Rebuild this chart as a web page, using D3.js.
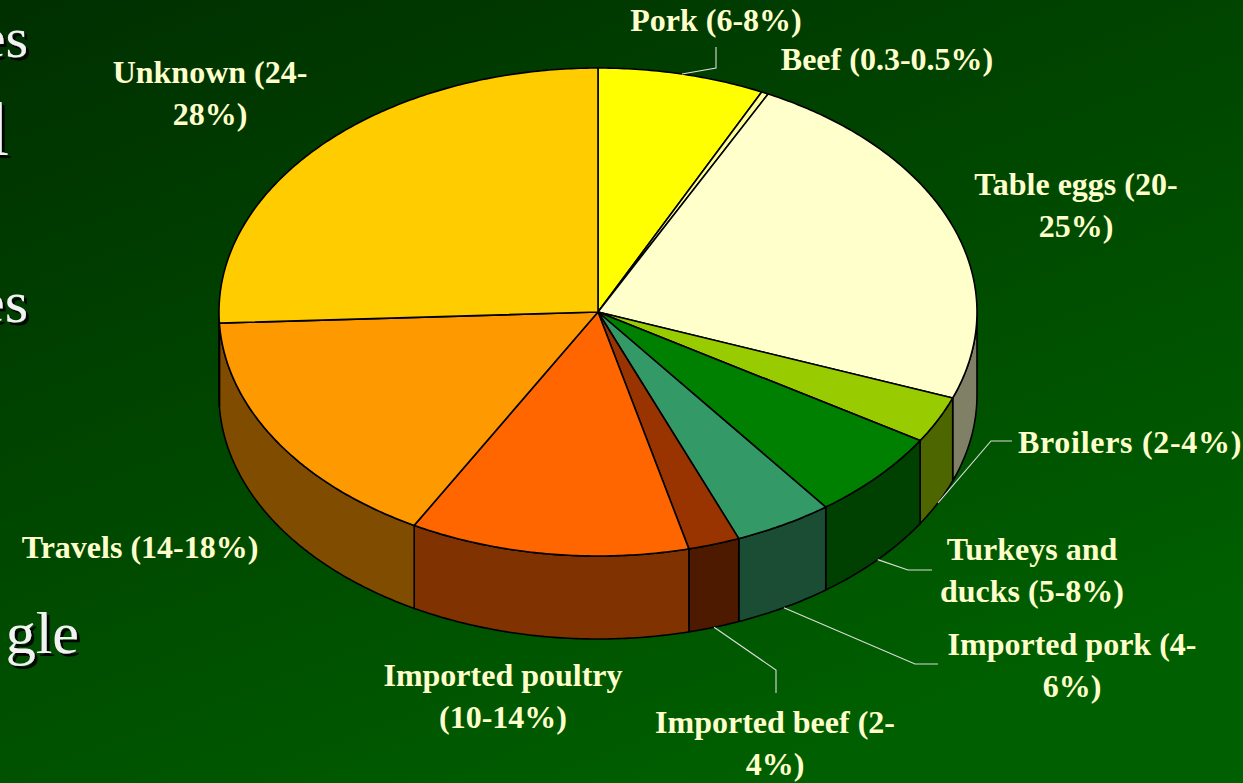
<!DOCTYPE html>
<html>
<head>
<meta charset="utf-8">
<script src="https://cdn.jsdelivr.net/npm/d3@7/dist/d3.min.js"></script>
<style>
  html, body { margin: 0; padding: 0; background: #003a00; }
  svg { display: block; }
</style>
</head>
<body>
<svg id="chart" width="1243" height="783"></svg>
<script>
// ---------- data ----------
const categories = ["Pork", "Beef", "Table eggs", "Broilers", "Turkeys and ducks",
  "Imported pork", "Imported beef", "Imported poultry", "Travels", "Unknown"];
const values = [7.1, 0.3, 23.3, 3.1, 5.9, 4.2, 2.2, 11.9, 16.2, 25.7];
const rangeLabels = ["6-8%", "0.3-0.5%", "20-25%", "2-4%", "5-8%", "4-6%", "2-4%", "10-14%", "14-18%", "24-28%"];
const topColors = ["#FFFF00", "#FFFF99", "#FFFFCC", "#99CC00", "#008000",
  "#339966", "#993300", "#FF6600", "#FF9900", "#FFCC00"];
const labelLines = [
  ["Pork (6-8%)"], ["Beef (0.3-0.5%)"], ["Table eggs (20-", "25%)"], ["Broilers (2-4%)"],
  ["Turkeys and", "ducks (5-8%)"], ["Imported pork (4-", "6%)"], ["Imported beef (2-", "4%)"],
  ["Imported poultry", "(10-14%)"], ["Travels (14-18%)"], ["Unknown (24-", "28%)"]
];
const slideFragments = ["es", "l", "es", "gle"];

// ---------- layout ----------
const W = 1243, H = 783;
const cx = 598, cy = 312, rx = 379, ry = 244, depth = 83;
const lineH = 42;
const labelLayout = {
  "Pork": { x: 716, y: 31, anchor: "middle", leader: [[716, 68], [716, 47]], edge: "top" },
  "Beef": { x: 887, y: 70, anchor: "middle" },
  "Table eggs": { x: 1076, y: 195, anchor: "middle" },
  "Broilers": { x: 1018, y: 453, anchor: "start", ls: 0.7, leader: [[991, 441], [1012, 441]], edge: "bottom" },
  "Turkeys and ducks": { x: 1032, y: 560, anchor: "middle", leader: [[908, 570], [932, 570]], edge: "bottom" },
  "Imported pork": { x: 1072, y: 655, anchor: "middle", leader: [[915, 664], [938, 664]], edge: "bottom" },
  "Imported beef": { x: 775, y: 733, anchor: "middle", leader: [[776, 670], [776, 693]], edge: "bottom" },
  "Imported poultry": { x: 503, y: 686, anchor: "middle" },
  "Travels": { x: 140, y: 558, anchor: "middle" },
  "Unknown": { x: 210, y: 83, anchor: "middle" }
};
const fragLayout = [
  { x: 28, y: 57, size: 58 },
  { x: 9, y: 155, size: 76 },
  { x: 28, y: 322, size: 60 },
  { x: 79, y: 653, size: 60 }
];

const svg = d3.select("#chart");
const defs = svg.append("defs");
const bg = defs.append("linearGradient").attr("id", "bg")
  .attr("x1", "0").attr("y1", "0").attr("x2", "0.6").attr("y2", "1");
bg.append("stop").attr("offset", "0").attr("stop-color", "#002f00");
bg.append("stop").attr("offset", "1").attr("stop-color", "#005f00");
svg.append("rect").attr("width", W).attr("height", H).attr("fill", "url(#bg)");

const shadow = defs.append("filter").attr("id", "shadow")
  .attr("x", "-20%").attr("y", "-20%").attr("width", "150%").attr("height", "150%");
shadow.append("feDropShadow").attr("dx", 3).attr("dy", 3).attr("stdDeviation", 0.6)
  .attr("flood-color", "#000").attr("flood-opacity", 0.9);

// slide text fragments (cut-off at the left edge)
svg.append("g").selectAll("text").data(slideFragments).join("text")
  .attr("x", (d, i) => fragLayout[i].x)
  .attr("y", (d, i) => fragLayout[i].y)
  .attr("text-anchor", "end")
  .attr("font-family", "'Liberation Serif', 'Times New Roman', serif")
  .attr("font-size", (d, i) => fragLayout[i].size)
  .attr("fill", "#f2f2f2")
  .attr("filter", "url(#shadow)")
  .text(d => d);

// ---------- pie ----------
const data = categories.map((c, i) => ({ name: c, value: values[i], color: topColors[i], lines: labelLines[i], range: rangeLabels[i] }));
const arcs = d3.pie().value(d => d.value).sort(null).startAngle(0).endAngle(2 * Math.PI)(data);

const sx = d3.scaleLinear().domain([-1, 1]).range([cx - rx, cx + rx]);
const sy = d3.scaleLinear().domain([-1, 1]).range([cy - ry, cy + ry]);
const pt = (a, dz = 0) => [sx(Math.sin(a)), sy(-Math.cos(a)) + dz];

function arcPts(a0, a1, dz) {
  const n = Math.max(2, Math.ceil((a1 - a0) / 0.01));
  return d3.range(n + 1).map(k => pt(a0 + (a1 - a0) * k / n, dz));
}
const line = d3.line();

function topPath(d) {
  return line([[cx, cy], ...arcPts(d.startAngle, d.endAngle, 0)]) + "Z";
}
function sidePath(d) {
  const a0 = Math.max(d.startAngle, Math.PI / 2);
  const a1 = Math.min(d.endAngle, 3 * Math.PI / 2);
  if (a1 <= a0) return null;
  const top = arcPts(a0, a1, 0);
  const bot = arcPts(a0, a1, depth).reverse();
  return line([...top, ...bot]) + "Z";
}

const pie = svg.append("g");
pie.selectAll("path.side").data(arcs.filter(d => sidePath(d))).join("path")
  .attr("class", "side")
  .attr("d", sidePath)
  .attr("fill", d => d3.color(d.data.color).darker(1).formatHex())
  .attr("fill", d => { const c = d3.rgb(d.data.color); return d3.rgb(c.r * 0.5, c.g * 0.5, c.b * 0.5).formatHex(); })
  .attr("stroke", "#000").attr("stroke-width", 1.6).attr("stroke-linejoin", "round");

pie.selectAll("path.top").data(arcs).join("path")
  .attr("class", "top")
  .attr("d", topPath)
  .attr("fill", d => d.data.color)
  .attr("stroke", "#000").attr("stroke-width", 1.6).attr("stroke-linejoin", "round");

// ---------- leader lines ----------
const leaders = arcs.filter(d => labelLayout[d.data.name].leader);
svg.append("g").selectAll("path").data(leaders).join("path")
  .attr("d", d => {
    const L = labelLayout[d.data.name];
    const mid = (d.startAngle + d.endAngle) / 2;
    const start = pt(mid, L.edge === "bottom" ? depth : 0);
    return line([start, ...L.leader]);
  })
  .attr("fill", "none").attr("stroke", "#dcdcdc").attr("stroke-width", 1.1);

// ---------- labels ----------
const lbl = svg.append("g")
  .attr("font-family", "'Liberation Serif', 'Times New Roman', serif")
  .attr("font-weight", "bold").attr("font-size", 32).attr("fill", "#FFFFCC");
arcs.forEach(d => {
  const L = labelLayout[d.data.name];
  const t = lbl.append("text").attr("text-anchor", L.anchor)
    .attr("letter-spacing", L.ls || 0);
  d.data.lines.forEach((s, k) => {
    t.append("tspan").attr("x", L.x).attr("y", L.y + k * lineH).text(s);
  });
});
</script>
</body>
</html>
